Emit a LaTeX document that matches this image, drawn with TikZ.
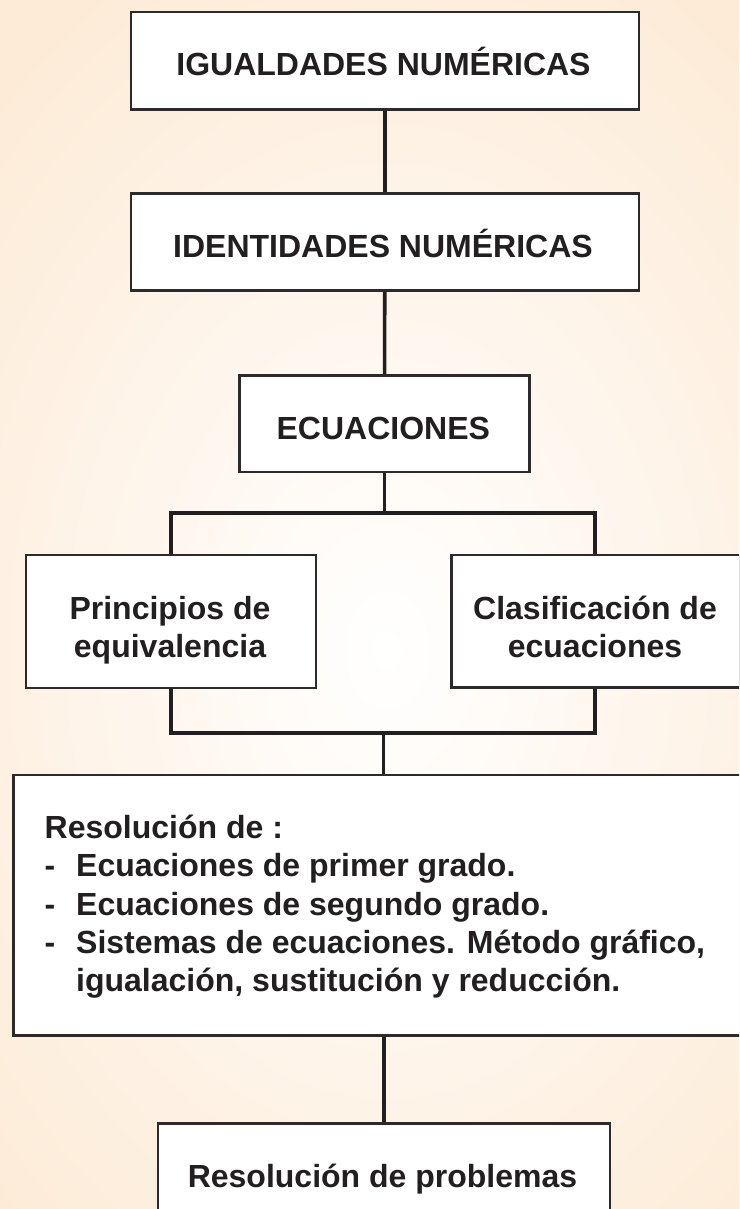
\documentclass[tikz,border=0pt]{standalone}
\usepackage{fontspec}
\setmainfont{Liberation Sans}
\definecolor{peach}{RGB}{253,235,215}
\definecolor{ink}{RGB}{35,31,32}
\definecolor{boxline}{RGB}{45,42,43}
\begin{document}
\begin{tikzpicture}[x=1pt,y=-1pt,
  box/.style={draw=boxline, line width=2.5pt, fill=white, rectangle, inner sep=0pt, anchor=north west},
  conn/.style={draw=ink, line width=3.6pt, line join=miter},
  lbl/.style={text=ink, font=\bfseries\fontsize{32}{38}\selectfont, inner sep=0pt, anchor=base},
  lbll/.style={lbl, anchor=base west}]
\useasboundingbox (0,0) rectangle (739,1209);
\clip (0,0) rectangle (739,1209);
\fill[peach] (0,0) rectangle (739,1209);
\shade[inner color=white, outer color=peach] (387,650) ellipse [x radius=560, y radius=780];

% boxes
\node[box, minimum width=508pt, minimum height=97.6pt] (b1) at (129.5,10.7) {};
\node[box, minimum width=508pt, minimum height=97pt] (b2) at (129.5,192.3) {};
\node[box, minimum width=290pt, minimum height=96.7pt] (b3) at (238.3,374) {};
\node[box, minimum width=290pt, minimum height=133pt] (b4) at (24.5,553.5) {};
\node[box, minimum width=289pt, minimum height=132.5pt] (b5) at (450,553.5) {};
\node[box, minimum width=748pt, minimum height=260.5pt] (b6) at (12,773.5) {};
\node[box, minimum width=452pt, minimum height=130pt] (b7) at (156.5,1122) {};

% junction points
\coordinate (jl) at (171,513);
\coordinate (jr) at (595,513);
\coordinate (kl) at (171,733);
\coordinate (kr) at (595,733);
\coordinate (kc) at (383.3,733);

% connectors
\draw[conn] (b1.south) -- (b2.north);
\draw[conn] (b2.south) -- (b3.north);
\draw[conn] (b3.south) -- (b3.south |- jl);
\draw[conn] (jl |- b4.north) -- (jl) -- (jr) -- (jr |- b5.north);
\draw[conn] (kl |- b4.south) -- (kl) -- (kr) -- (kr |- b5.south);
\draw[conn] (kc) -- (kc |- b6.north);
\draw[conn] (b7.north |- b6.south) -- (b7.north);

% texts
\node[lbl] (t1) at (383.5,76) {IGUALDADES NUMÉRICAS};
\node[lbl] (t2) at (383,257.7) {IDENTIDADES NUMÉRICAS};
\node[lbl] (t3) at (383.3,439) {ECUACIONES};
\node[lbl] (p1) at (170,619.5) {Principios de};
\node[lbl] (p2) at (170,657.5) {equivalencia};
\node[lbl] (c1) at (595,619.5) {Clasificación de};
\node[lbl] (c2) at (595,657.5) {ecuaciones};
\node[lbll] (r0) at (44.5,838) {Resolución de :};
\node[lbll] (d1) at (44.5,876.5) {-};
\node[lbll] (r1) at (76,876.5) {Ecuaciones de primer grado.};
\node[lbll] (d2) at (44.5,915) {-};
\node[lbll] (r2) at (76,915) {Ecuaciones de segundo grado.};
\node[lbll] (d3) at (44.5,953.3) {-};
\node[lbll] (r3) at (76,953.3) {Sistemas de ecuaciones. Método gráfico,};
\node[lbll] (r4) at (76,991.5) {igualación, sustitución y reducción.};
\node[lbl] (t7) at (382.5,1187) {Resolución de problemas};
\end{tikzpicture}
\end{document}
